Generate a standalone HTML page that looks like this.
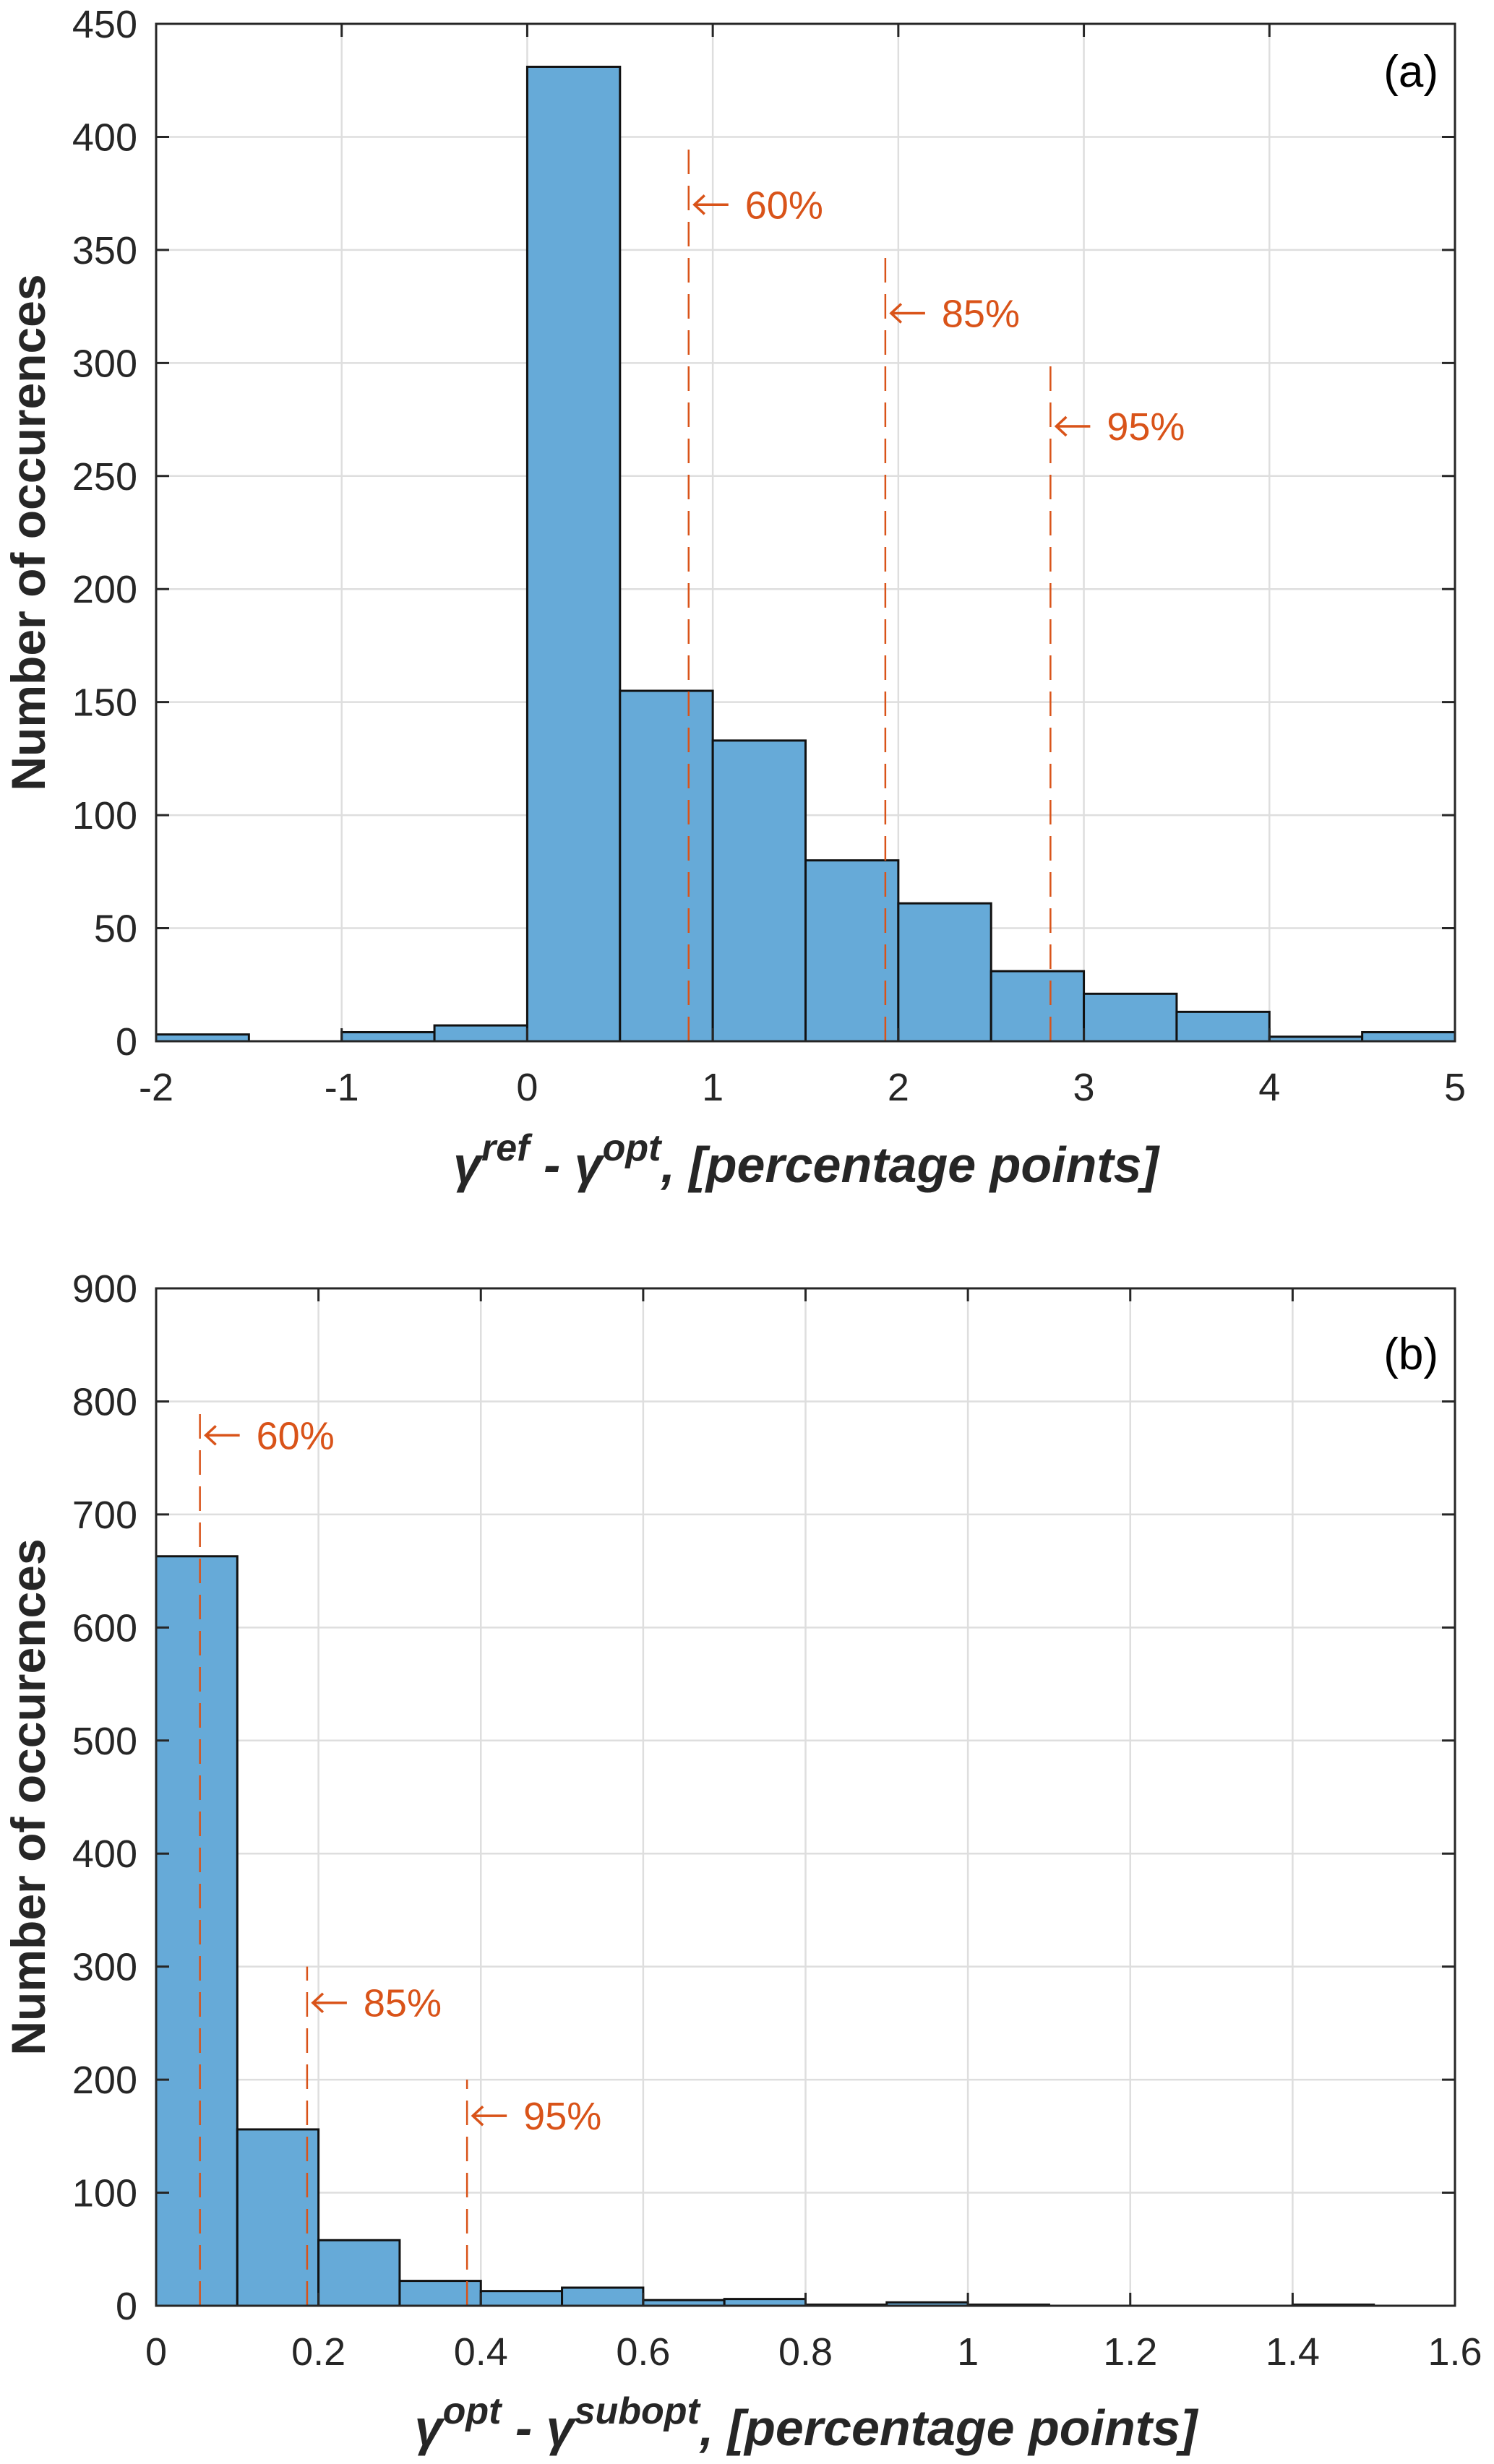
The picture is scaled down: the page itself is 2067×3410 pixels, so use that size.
<!DOCTYPE html>
<html><head><meta charset="utf-8"><style>
html,body{margin:0;padding:0;background:#fff}
svg{display:block}
text{font-family:"Liberation Sans",Arial,sans-serif;fill:#262626}
</style></head><body>
<svg id="fig" width="2067" height="3410" viewBox="0 0 2067 3410" xmlns="http://www.w3.org/2000/svg"></svg>
<script>
// Panel (a) data
const aEdges=[-2,-1.5,-1,-0.5,0,0.5,1,1.5,2,2.5,3,3.5,4,4.5,5];
const aCounts=[3,0,4,7,431,155,133,80,61,31,21,13,2,4];
const aXTicks=[-2,-1,0,1,2,3,4,5];
const aYTicks=[0,50,100,150,200,250,300,350,400,450];
const aPctX=[0.87,1.93,2.82];
const aPctTop=[395,350,300];
const aPctArrowY=[370,322,272];
const aPctLabels=["60%","85%","95%"];
// Panel (b) data
const bEdges=[0,0.1,0.2,0.3,0.4,0.5,0.6,0.7,0.8,0.9,1.0,1.1,1.2,1.3,1.4,1.5,1.6];
const bCounts=[663,156,58,22,13,16,5,6,1,3,1,0,0,0,1,0];
const bXTicks=[0,0.2,0.4,0.6,0.8,1,1.2,1.4,1.6];
const bYTicks=[0,100,200,300,400,500,600,700,800,900];
const bPctX=[0.054,0.186,0.383];
const bPctTop=[790,300,200];
const bPctArrowY=[770,268,168];
const bPctLabels=["60%","85%","95%"];

const NS="http://www.w3.org/2000/svg";
const svg=document.getElementById('fig');
function mk(tag,attrs,parent){const e=document.createElementNS(NS,tag);for(const k in attrs)e.setAttribute(k,attrs[k]);(parent||svg).appendChild(e);return e;}

function panel(cfg){
  const g=mk('g',{});
  
  
  const L=216,R=2013,T=cfg.top,B=cfg.bottom;
  const xs=v=>L+(v-cfg.xmin)/(cfg.xmax-cfg.xmin)*(R-L);
  const ys=v=>B-(v-cfg.ymin)/(cfg.ymax-cfg.ymin)*(B-T);
  cfg.xt.forEach(t=>{const l=mk('line',{x1:xs(t),x2:xs(t),y1:T,y2:B,stroke:'#dedede','stroke-width':2.5},g);
    });
  cfg.yt.forEach(t=>{const l=mk('line',{x1:L,x2:R,y1:ys(t),y2:ys(t),stroke:'#dedede','stroke-width':2.5},g);
    });
  cfg.counts.forEach((c,i)=>{
    const x0=xs(cfg.edges[i]),x1=xs(cfg.edges[i+1]);
    const r=mk('rect',{x:x0,y:ys(c),width:x1-x0,height:B-ys(c),fill:'#66aad8',stroke:'#111','stroke-width':3},g);
    
    
  });
  cfg.px.forEach((p,i)=>{
    const x=xs(p), ay=ys(cfg.py[i]);
    const l=mk('line',{x1:x,x2:x,y1:B,y2:ys(cfg.ptop[i]),stroke:'#d95319','stroke-width':2.5,'stroke-dasharray':'34,16'},g);
    
    
    const a=mk('path',{d:`M${x+8},${ay} L${x+55},${ay} M${x+22},${ay-13} L${x+8},${ay} L${x+22},${ay+13}`,fill:'none',stroke:'#d95319','stroke-width':3.5},g);
    
    
    const t=mk('text',{x:x+78,y:ay+19,'font-size':54,style:'fill:#d95319'},g);
    t.textContent=cfg.plab[i];
    
    
  });
  const box=mk('rect',{x:L,y:T,width:R-L,height:B-T,fill:'none',stroke:'#262626','stroke-width':3},g);
  
  cfg.xt.forEach(t=>{const x=xs(t);
    mk('line',{x1:x,x2:x,y1:B,y2:B-18,stroke:'#262626','stroke-width':3},g);
    mk('line',{x1:x,x2:x,y1:T,y2:T+18,stroke:'#262626','stroke-width':3},g);
    const tx=mk('text',{x:x,y:B+82,'font-size':54,'text-anchor':'middle'},g);
    tx.textContent=String(t);
    });
  cfg.yt.forEach(t=>{const y=ys(t);
    mk('line',{x1:L,x2:L+18,y1:y,y2:y,stroke:'#262626','stroke-width':3},g);
    mk('line',{x1:R,x2:R-18,y1:y,y2:y,stroke:'#262626','stroke-width':3},g);
    const tx=mk('text',{x:190,y:y+19,'font-size':54,'text-anchor':'end'},g);
    tx.textContent=String(t);
    });
  const yt=mk('text',{x:0,y:0,'font-size':66,'font-weight':'bold','text-anchor':'middle',transform:`translate(62,${(T+B)/2}) rotate(-90)`},g);
  yt.textContent='Number of occurences';
  
  const xt=mk('text',{x:1115,y:cfg.xtitleY,'font-size':70,'font-weight':'bold','font-style':'italic','text-anchor':'middle'},g);
  xt.innerHTML=cfg.xtitle;
  
  const pl=mk('text',{x:1990,y:cfg.lblY,'font-size':62,'text-anchor':'end',style:'fill:#000'},g);
  pl.textContent=cfg.lbl;
  
}

panel({name:'panel-a',top:33,bottom:1441,xmin:-2,xmax:5,ymin:0,ymax:450,edges:aEdges,counts:aCounts,xt:aXTicks,yt:aYTicks,
  px:aPctX,ptop:aPctTop,py:aPctArrowY,plab:aPctLabels,xtitleY:1636,lblY:120,lbl:'(a)',
  xtitle:'γ<tspan dy="-30" font-size="52">ref</tspan><tspan dy="30"> - γ</tspan><tspan dy="-30" font-size="52">opt</tspan><tspan dy="30">, [percentage points]</tspan>'});
panel({name:'panel-b',top:1783,bottom:3191,xmin:0,xmax:1.6,ymin:0,ymax:900,edges:bEdges,counts:bCounts,xt:bXTicks,yt:bYTicks,
  px:bPctX,ptop:bPctTop,py:bPctArrowY,plab:bPctLabels,xtitleY:3384,lblY:1895,lbl:'(b)',
  xtitle:'γ<tspan dy="-30" font-size="52">opt</tspan><tspan dy="30"> - γ</tspan><tspan dy="-30" font-size="52">subopt</tspan><tspan dy="30">, [percentage points]</tspan>'});
</script>
</body></html>
